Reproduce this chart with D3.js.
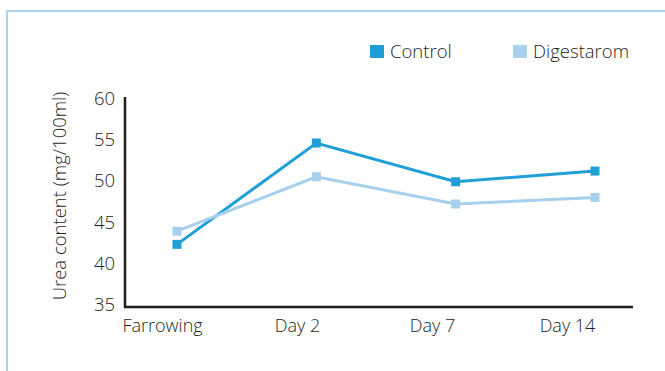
<!DOCTYPE html>
<html>
<head>
<meta charset="utf-8">
<script src="https://cdn.jsdelivr.net/npm/d3@7"></script>
<style>
  body { margin: 0; background: #fff; }
  text { font-family: "Open Sans", "Noto Sans", sans-serif; font-weight: 300; fill: #231f20; }
</style>
</head>
<body>
<svg id="chart" width="665" height="371"></svg>
<script>
// Sampling days and urea content (mg/100ml) per group
const categories = ["Farrowing", "Day 2", "Day 7", "Day 14"];
const controlValues = [42.6, 54.9, 50.2, 51.5];
const digestaromValues = [44.2, 50.8, 47.5, 48.3];
const yTicks = [35, 40, 45, 50, 55, 60];
const seriesNames = ["Control", "Digestarom"];
const seriesColors = ["#1f9fd6", "#a6d0ed"];

const series = [
  { name: seriesNames[0], color: seriesColors[0], values: controlValues },
  { name: seriesNames[1], color: seriesColors[1], values: digestaromValues }
];

const svg = d3.select("#chart");

// light blue frame along the top and left edges
svg.append("path")
  .attr("d", "M7,371V11H665")
  .attr("fill", "none")
  .attr("stroke", "#a6d4f2")
  .attr("stroke-width", 2);

const x = d3.scalePoint().domain(categories).range([177, 595]);
const xLabel = d3.scalePoint().domain(categories).range([162, 567]);
const y = d3.scaleLinear().domain([35, 60]).range([307, 101]);

const axisLeftX = 125;
const axisRightX = 633;

// axis lines (L shape)
svg.append("path")
  .attr("d", `M${axisLeftX},${y(60) - 4}V${y(35)}H${axisRightX}`)
  .attr("fill", "none")
  .attr("stroke", "#231f20")
  .attr("stroke-width", 2.5);

// y tick labels
const yAxis = d3.axisLeft(y).tickValues(yTicks).tickSize(0).tickPadding(10);
const gy = svg.append("g").attr("transform", `translate(${axisLeftX},0)`).call(yAxis);
gy.select(".domain").remove();
gy.attr("font-family", null).attr("font-size", null);
gy.selectAll("text")
  .attr("font-size", 18.5)
  .attr("dy", null)
  .attr("y", -4)
  .attr("dominant-baseline", "central")
  .style("fill", "#231f20");

// x tick labels
const xAxis = d3.axisBottom(xLabel).tickSize(0).tickPadding(0);
const gx = svg.append("g").attr("transform", `translate(0,${y(35)})`).call(xAxis);
gx.select(".domain").remove();
gx.attr("font-family", null).attr("font-size", null);
gx.selectAll("text")
  .attr("font-size", 18)
  .attr("dy", null)
  .attr("y", 25)
  .style("fill", "#231f20");

// y axis title
svg.append("text")
  .attr("transform", "translate(66,196) rotate(-90)")
  .attr("text-anchor", "middle")
  .attr("font-size", 18.5)
  .text("Urea content (mg/100ml)");

// lines and square markers
const line = d3.line()
  .x((d, i) => x(categories[i]))
  .y(d => y(d));

const sq = 9;
const groups = svg.selectAll(".series").data(series).join("g").attr("class", "series");
groups.append("path")
  .attr("d", d => line(d.values))
  .attr("fill", "none")
  .attr("stroke", d => d.color)
  .attr("stroke-width", 3);
groups.selectAll("rect")
  .data(d => d.values.map((v, i) => ({ v, i, color: d.color })))
  .join("rect")
  .attr("x", d => x(categories[d.i]) - sq / 2)
  .attr("y", d => y(d.v) - sq / 2)
  .attr("width", sq)
  .attr("height", sq)
  .attr("fill", d => d.color);

// legend
const legendX = [370, 513];
const legend = svg.selectAll(".legend").data(series).join("g")
  .attr("class", "legend")
  .attr("transform", (d, i) => `translate(${legendX[i]},45)`);
legend.append("rect")
  .attr("width", 14).attr("height", 13)
  .attr("fill", d => d.color);
legend.append("text")
  .attr("x", 20).attr("y", 13)
  .attr("font-size", 18.5)
  .text(d => d.name);
</script>
</body>
</html>
